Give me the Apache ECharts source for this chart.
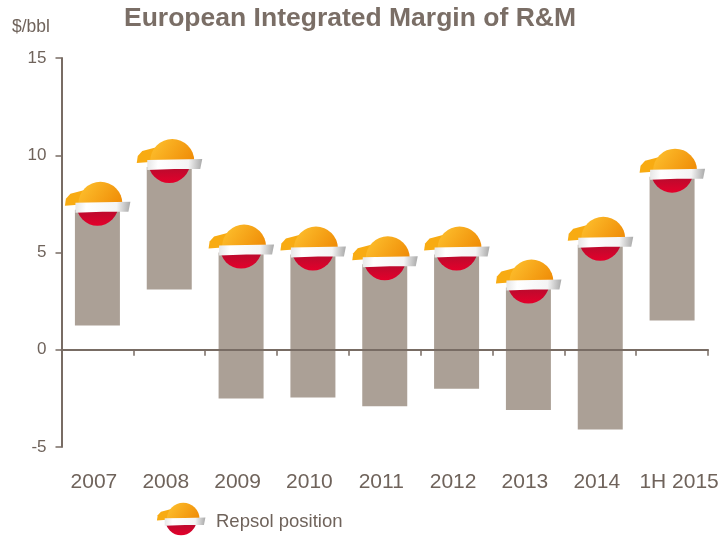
<!DOCTYPE html>
<html>
<head>
<meta charset="utf-8">
<script src="https://cdn.jsdelivr.net/npm/echarts@6/dist/echarts.min.js"></script>
<style>
html,body{margin:0;padding:0;background:#fff}
#chart{width:719px;height:536px}
</style>
</head>
<body>
<div id="chart"></div>
<script>
// ------- data -------
var categories = ['2007','2008','2009','2010','2011','2012','2013','2014','1H 2015'];
var rangeLow = [1.25,3.1,-2.5,-2.45,-2.9,-2,-3.1,-4.1,1.5];
var rangeHigh = [7.2,9.4,5.0,4.9,4.4,4.9,3.2,5.4,8.9];
var repsol = [7.3,9.5,5.1,5.0,4.5,5.0,3.3,5.5,9.0];
var yTicks = [-5,0,5,10,15];

var textColor = '#6f635b';
var axisColor = '#786c64';
var barColor = '#aba096';
var fontName = '"Liberation Sans", Arial, sans-serif';

function vGrad(c0, c1){
	return new echarts.graphic.LinearGradient(0,0,0,1,[{offset:0,color:c0},{offset:1,color:c1}]);
}

// the helmet marker, drawn round (0,0) = middle of the white band
function capParts(){
	return [{
		type:'sector',
		shape:{cx:0,cy:-3,r0:0,r:21,startAngle:0,endAngle:Math.PI},
		style:{fill:vGrad('#a90f2e','#e4002b')}
	},{
		type:'polygon',
		shape:{points:[[-32.5,-2],[-31.5,-9],[-27,-14],[-8,-19],[-6,-4]]},
		style:{fill:'#f8ab12'}
	},{
		type:'sector',
		shape:{cx:3,cy:-4,r0:0,r:22,startAngle:Math.PI,endAngle:Math.PI*2},
		style:{fill:new echarts.graphic.LinearGradient(0.2,0,0.9,1,[{offset:0,color:'#fcbb2a'},{offset:1,color:'#f08e08'}])}
	},{
		type:'polygon',
		shape:{points:[[-22,-5],[5,-5.5],[33,-6],[31,4],[5,4],[-22,5]]},
		style:{fill:new echarts.graphic.LinearGradient(0,0,1,0.3,[{offset:0,color:'#e6e6e6'},{offset:0.2,color:'#ffffff'},{offset:0.75,color:'#f4f4f4'},{offset:1,color:'#a9a9a9'}])}
	}];
}

var option = {
	animation:false,
	backgroundColor:'#fff',
	title:{
		text:'European Integrated Margin of R&M',
		left:119, top:0,
		textStyle:{color:'#7a6e66',fontFamily:fontName,fontWeight:'bold',fontSize:26.5}
	},
	grid:{left:61.5,right:11,top:58,bottom:89,outerBoundsMode:'none'},
	xAxis:[{
		type:'category',
		data:categories,
		z:5,
		axisLine:{onZero:true,lineStyle:{color:axisColor,width:2}},
		axisTick:{show:true,length:6,lineStyle:{color:axisColor,width:1.5}},
		axisLabel:{show:false},
		splitLine:{show:false}
	},{
		type:'category',
		position:'bottom',
		data:categories,
		axisLine:{show:false,onZero:false},
		axisTick:{show:false},
		axisLabel:{
			show:true,
			interval:0,
			hideOverlap:false,
			margin:25,
			fontSize:21,
			color:textColor,
			fontFamily:fontName,
			formatter:function(v){
				return v === '1H 2015' ? '{b|'+v+'}' : '{a|'+v+'}';
			},
			rich:{
				a:{fontSize:21,color:textColor,fontFamily:fontName,padding:[0,7,0,0]},
				b:{fontSize:21,color:textColor,fontFamily:fontName,padding:[0,0,0,14]}
			}
		}
	}],
	yAxis:{
		type:'value',
		min:yTicks[0],
		max:yTicks[yTicks.length-1],
		interval:5,
		splitLine:{show:false},
		axisLine:{show:true,onZero:false,lineStyle:{color:axisColor,width:2}},
		axisTick:{show:true,length:6,lineStyle:{color:axisColor,width:1.5}},
		axisLabel:{margin:15,fontSize:17,color:textColor,fontFamily:fontName}
	},
	graphic:[{
		type:'text',left:12,top:18,
		style:{text:'$/bbl',fill:textColor,fontSize:17.5,fontFamily:fontName}
	},{
		type:'text',left:216,top:512,
		style:{text:'Repsol position',fill:textColor,fontSize:18.5,fontFamily:fontName}
	},{
		type:'group',x:181,y:522,scaleX:0.74,scaleY:0.74,
		children:capParts()
	}],
	series:[{
		type:'custom',
		name:'Range',
		data:categories.map(function(c,i){return [i,rangeLow[i],rangeHigh[i]];}),
		encode:{x:0,y:[1,2]},
		renderItem:function(params,api){
			var a = api.coord([api.value(0),api.value(1)]);
			var b = api.coord([api.value(0),api.value(2)]);
			return {
				type:'rect',
				shape:{x:a[0]-22.5,y:b[1],width:45,height:a[1]-b[1]},
				style:{fill:barColor}
			};
		}
	},{
		type:'custom',
		name:'Repsol position',
		z:3,
		data:categories.map(function(c,i){return [i,repsol[i]];}),
		encode:{x:0,y:1},
		renderItem:function(params,api){
			var p = api.coord([api.value(0),api.value(1)]);
			return {type:'group',x:p[0],y:p[1],children:capParts()};
		}
	}]
};

echarts.init(document.getElementById('chart')).setOption(option);
</script>
</body>
</html>
